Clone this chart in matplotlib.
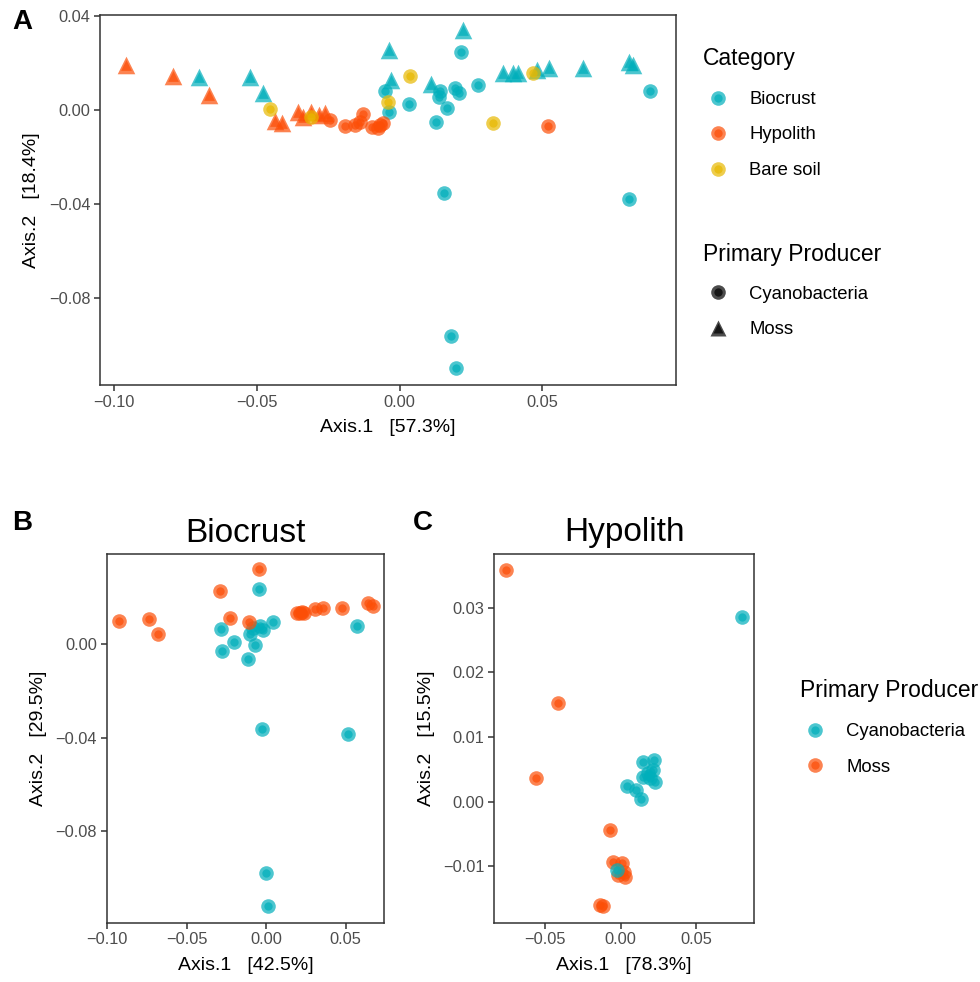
import matplotlib
matplotlib.use("Agg")
import matplotlib.pyplot as plt
from matplotlib.lines import Line2D
from matplotlib.legend_handler import HandlerTuple

plt.rcParams['font.family'] = ['Liberation Sans', 'DejaVu Sans']

TEAL = '#00AFBB'
ORANGE = '#FC4E07'
YELLOW = '#E7B800'

# ---- Panel A: all samples ----
a_hyp_moss_x = [-0.0958, -0.0793, -0.0667, -0.0436, -0.0412, -0.0356, -0.0338, -0.0310, -0.0282, -0.0261]
a_hyp_moss_y = [0.0192, 0.0145, 0.0064, -0.0047, -0.0055, -0.0009, -0.0030, -0.0009, -0.0021, -0.0013]
a_hyp_cyano_x = [-0.0244, -0.0191, -0.0156, -0.0139, -0.0128, -0.0097, -0.0076, -0.0069, -0.0058, 0.0520]
a_hyp_cyano_y = [-0.0043, -0.0068, -0.0064, -0.0051, -0.0017, -0.0072, -0.0077, -0.0064, -0.0055, -0.0068]
a_bio_moss_x = [-0.0702, -0.0524, -0.0478, -0.0037, -0.0030, 0.0110, 0.0222, 0.0362, 0.0397, 0.0415,
                0.0481, 0.0523, 0.0642, 0.0803, 0.0817]
a_bio_moss_y = [0.0141, 0.0141, 0.0072, 0.0256, 0.0128, 0.0111, 0.0341, 0.0158, 0.0158, 0.0158,
                0.0170, 0.0179, 0.0179, 0.0204, 0.0192]
a_bio_cyano_x = [-0.0051, -0.0037, 0.0033, 0.0127, 0.0141, 0.0138, 0.0166, 0.0194, 0.0208, 0.0215,
                 0.0275, 0.0877, 0.0155, 0.0803, 0.0181, 0.0199]
a_bio_cyano_y = [0.0081, -0.0009, 0.0026, -0.0051, 0.0081, 0.0055, 0.0009, 0.0094, 0.0072, 0.0247,
                 0.0106, 0.0081, -0.0353, -0.0379, -0.0961, -0.1100]
a_soil_x = [-0.0453, -0.0310, -0.0041, 0.0036, 0.0327, 0.0467]
a_soil_y = [0.0004, -0.0030, 0.0034, 0.0145, -0.0055, 0.0158]

# ---- Panel B: Biocrust ----
b_moss_x = [-0.0925, -0.0736, -0.0681, -0.0289, -0.0226, -0.0046, -0.0105, 0.0193, 0.0214, 0.0224,
            0.0239, 0.0308, 0.0356, 0.0480, 0.0644, 0.0671]
b_moss_y = [0.0100, 0.0109, 0.0046, 0.0230, 0.0111, 0.0321, 0.0097, 0.0136, 0.0133, 0.0140,
            0.0133, 0.0153, 0.0157, 0.0157, 0.0179, 0.0166]
b_cyano_x = [-0.0042, -0.0283, -0.0277, -0.0203, -0.0115, -0.0101, -0.0084, -0.0038, -0.0017, 0.0046,
             -0.0069, -0.0027, 0.0518, 0.0570, -0.0002, 0.0013]
b_cyano_y = [0.0239, 0.0064, -0.0029, 0.0009, -0.0064, 0.0044, 0.0069, 0.0079, 0.0061, 0.0094,
             -0.0003, -0.0361, -0.0383, 0.0079, -0.0979, -0.1121]

# ---- Panel C: Hypolith ----
c_moss_x = [-0.0758, -0.0412, -0.0557, -0.0068, -0.0048, 0.0007, -0.0015, 0.0029, 0.0022, -0.0137, -0.0115]
c_moss_y = [0.0358, 0.0153, 0.0036, -0.0044, -0.0093, -0.0095, -0.0113, -0.0117, -0.0108, -0.0160, -0.0161]
c_cyano_x = [0.0802, -0.0026, 0.0044, 0.0101, 0.0132, 0.0150, 0.0223, 0.0150, 0.0194, 0.0216, 0.0229, 0.0183]
c_cyano_y = [0.0286, -0.0105, 0.0024, 0.0018, 0.0004, 0.0062, 0.0065, 0.0039, 0.0037, 0.0049, 0.0031, 0.0044]

xt_a = [-0.10, -0.05, 0.00, 0.05]
xt_a_lab = ['\u22120.10', '\u22120.05', '0.00', '0.05']
yt_a = [0.04, 0.00, -0.04, -0.08]
yt_a_lab = ['0.04', '0.00', '\u22120.04', '\u22120.08']
yt_b = [0.00, -0.04, -0.08]
yt_b_lab = ['0.00', '\u22120.04', '\u22120.08']
xt_c = [-0.05, 0.00, 0.05]
xt_c_lab = ['\u22120.05', '0.00', '0.05']
yt_c = [0.03, 0.02, 0.01, 0.00, -0.01]
yt_c_lab = ['0.03', '0.02', '0.01', '0.00', '\u22120.01']

W, H = 980, 982
fig = plt.figure(figsize=(W / 100, H / 100), dpi=100)


def box(l, t, r, b):
    return [l / W, 1 - b / H, (r - l) / W, (b - t) / H]


def dots(ax, x, y, color, marker='o'):
    big, small = (160, 60) if marker == '^' else (110, 36)
    ax.scatter(x, y, s=big, c=color, marker=marker, alpha=0.7, linewidths=0)
    ax.scatter(x, y, s=small, c=color, marker=marker, alpha=0.7, linewidths=0)


def style(ax, xlim, ylim, xt, xtl, yt, ytl, xlabel, ylabel):
    ax.set_xlim(*xlim)
    ax.set_ylim(*ylim)
    ax.set_xticks(xt, xtl)
    ax.set_yticks(yt, ytl)
    for s in ax.spines.values():
        s.set_color('#333333')
        s.set_linewidth(1.1)
    ax.tick_params(color='#333333', length=4, width=1.1, labelsize=11.8,
                   labelcolor='#4D4D4D', pad=3)
    ax.set_xlabel(xlabel, fontsize=14, labelpad=7)
    ax.set_ylabel(ylabel, fontsize=14, labelpad=6)


def handle(color, marker='o'):
    ms1, ms2 = (11.5, 7) if marker == '^' else (10.5, 6)
    return (Line2D([], [], ls='', marker=marker, ms=ms1, mfc=color, mec='none', alpha=0.7),
            Line2D([], [], ls='', marker=marker, ms=ms2, mfc=color, mec='none', alpha=0.7))


def legend(handles, labels, title, x, ytitle, ymid):
    fig.text(x / W, 1 - ytitle / H, title, fontsize=16.5, ha='left', va='center')
    lg = fig.legend(handles, labels, loc='center left',
                    bbox_to_anchor=(x / W, 1 - ymid / H), frameon=False,
                    fontsize=13.3,
                    handler_map={tuple: HandlerTuple(ndivide=1)},
                    borderpad=0, borderaxespad=0, handlelength=1.6,
                    handletextpad=0.9, labelspacing=1.0)
    return lg


# Panel A
axA = fig.add_axes(box(100, 15, 676, 385))
dots(axA, a_bio_cyano_x, a_bio_cyano_y, TEAL)
dots(axA, a_bio_moss_x, a_bio_moss_y, TEAL, '^')
dots(axA, a_hyp_cyano_x, a_hyp_cyano_y, ORANGE)
dots(axA, a_hyp_moss_x, a_hyp_moss_y, ORANGE, '^')
dots(axA, a_soil_x, a_soil_y, YELLOW)
style(axA, (-0.1049, 0.0968), (-0.1171, 0.0405), xt_a, xt_a_lab, yt_a, yt_a_lab,
      'Axis.1   [57.3%]', 'Axis.2   [18.4%]')

legend([handle(TEAL), handle(ORANGE), handle(YELLOW)],
       ['Biocrust', 'Hypolith', 'Bare soil'], 'Category', 703, 58, 135)
legend([handle('black'), handle('black', '^')],
       ['Cyanobacteria', 'Moss'], 'Primary Producer', 703, 255, 312)

# Panel B
axB = fig.add_axes(box(106.7, 554, 384, 922.7))
dots(axB, b_cyano_x, b_cyano_y, TEAL)
dots(axB, b_moss_x, b_moss_y, ORANGE)
style(axB, (-0.1004, 0.0742), (-0.1193, 0.0387), xt_a, xt_a_lab, yt_b, yt_b_lab,
      'Axis.1   [42.5%]', 'Axis.2   [29.5%]')
axB.set_title('Biocrust', fontsize=24, pad=9)

# Panel C
axC = fig.add_axes(box(494, 554, 754, 922.7))
dots(axC, c_moss_x, c_moss_y, ORANGE)
dots(axC, c_cyano_x, c_cyano_y, TEAL)
style(axC, (-0.0837, 0.0881), (-0.0187, 0.0383), xt_c, xt_c_lab, yt_c, yt_c_lab,
      'Axis.1   [78.3%]', 'Axis.2   [15.5%]')
axC.set_title('Hypolith', fontsize=24, pad=9)

legend([handle(TEAL), handle(ORANGE)], ['Cyanobacteria', 'Moss'],
       'Primary Producer', 800, 691, 749.5)

# panel letters
for lab, x, y in [('A', 22, 22), ('B', 22, 523), ('C', 423, 523)]:
    fig.text(x / W, 1 - y / H, lab, fontsize=20, fontweight='bold', ha='center', va='center')

fig.savefig('out.png', dpi=100)
